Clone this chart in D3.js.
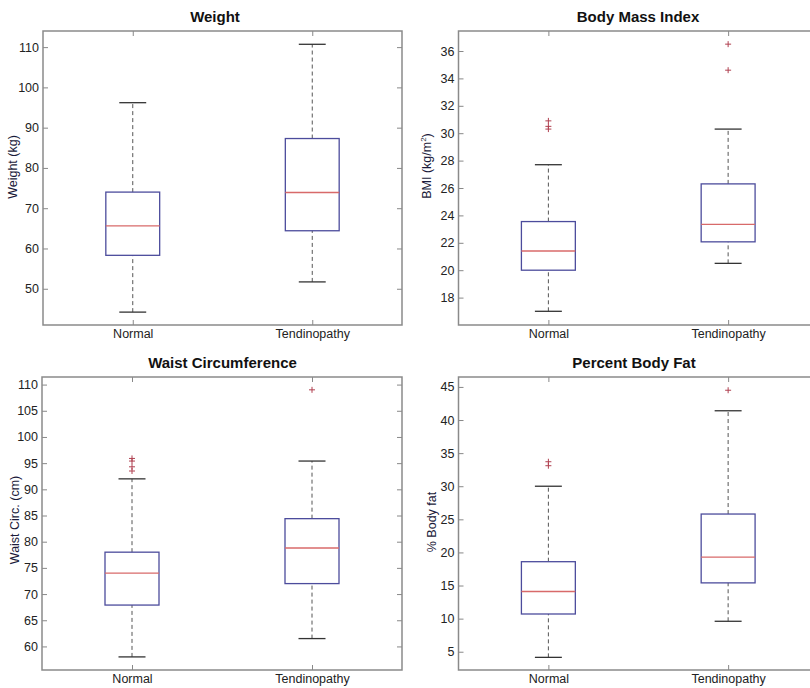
<!DOCTYPE html>
<html><head><meta charset="utf-8">
<script src="https://cdn.jsdelivr.net/npm/d3@7"></script>
<style>body{margin:0;background:#fff;} text{font-family:"Liberation Sans",Arial,sans-serif;}</style>
</head><body><svg id="c" width="810" height="688"></svg>
<script>
const categories = ["Normal", "Tendinopathy"];
const titles = ["Weight", "Body Mass Index", "Waist Circumference", "Percent Body Fat"];
const yLabels = ["Weight (kg)", "BMI (kg/m2)", "Waist Circ. (cm)", "% Body fat"];
// stats per group: [lower whisker, Q1, median, Q3, upper whisker]
const weightStats = [[44.2, 58.3, 65.6, 74.0, 96.2], [51.7, 64.4, 73.9, 87.3, 110.7]];
const weightOutliers = [[], []];
const bmiStats = [[17.0, 20.0, 21.4, 23.55, 27.7], [20.5, 22.07, 23.35, 26.3, 30.3]];
const bmiOutliers = [[30.3, 30.5, 30.9], [34.6, 36.5]];
const waistStats = [[58.0, 67.9, 74.0, 78.0, 92.0], [61.5, 72.0, 78.8, 84.4, 95.4]];
const waistOutliers = [[93.5, 94.3, 95.4, 95.9], [109.0]];
const fatStats = [[4.15, 10.7, 14.1, 18.6, 30.0], [9.6, 15.4, 19.3, 25.8, 41.4]];
const fatOutliers = [[33.1, 33.7], [44.5]];
const weightTicks = [50, 60, 70, 80, 90, 100, 110];
const bmiTicks = [18, 20, 22, 24, 26, 28, 30, 32, 34, 36];
const waistTicks = [60, 65, 70, 75, 80, 85, 90, 95, 100, 105, 110];
const fatTicks = [5, 10, 15, 20, 25, 30, 35, 40, 45];
const domains = [[41, 114], [16, 37.46], [55.5, 111.45], [2.24, 46.5]];

const panels = [
  {stats: weightStats, outl: weightOutliers, ticks: weightTicks, dom: domains[0], x0: 43, x1: 402, y0: 31, y1: 325, lx: 12.5, ly: 167, tx: 215},
  {stats: bmiStats, outl: bmiOutliers, ticks: bmiTicks, dom: domains[1], x0: 458.5, x1: 818, y0: 31, y1: 325, lx: 426.5, ly: 166, tx: 638},
  {stats: waistStats, outl: waistOutliers, ticks: waistTicks, dom: domains[2], x0: 42, x1: 402, y0: 377, y1: 670, lx: 14, ly: 520, tx: 222.5},
  {stats: fatStats, outl: fatOutliers, ticks: fatTicks, dom: domains[3], x0: 458.5, x1: 818, y0: 377, y1: 670, lx: 431, ly: 522, tx: 634}
];

const svg = d3.select("#c");
svg.append("rect").attr("width", 810).attr("height", 688).attr("fill", "#fff");

panels.forEach((p, i) => {
  const g = svg.append("g");
  const x = d3.scaleLinear().domain([0.5, 2.5]).range([p.x0, p.x1]);
  const y = d3.scaleLinear().domain(p.dom).range([p.y1, p.y0]);
  const unit = x(2) - x(1);
  const bw = 0.3 * unit, cw = 0.15 * unit;

  // axes with inside ticks
  const tl = 5;
  const yl = d3.axisLeft(y).tickValues(p.ticks).tickSize(-tl).tickPadding(4).tickFormat(d3.format("d"));
  const yr = d3.axisRight(y).tickValues(p.ticks).tickSize(-tl).tickFormat("");
  const xb = d3.axisBottom(x).tickValues([1, 2]).tickSize(-tl).tickPadding(4).tickFormat(d => categories[d - 1]);
  const xt = d3.axisTop(x).tickValues([1, 2]).tickSize(-tl).tickFormat("");
  [[yl, `translate(${p.x0},0)`], [yr, `translate(${p.x1},0)`], [xb, `translate(0,${p.y1})`], [xt, `translate(0,${p.y0})`]].forEach(([ax, tr]) => {
    const a = g.append("g").attr("transform", tr).call(ax);
    a.select(".domain").remove();
    a.selectAll(".tick line").attr("stroke", "#888").attr("stroke-width", 1);
    a.selectAll(".tick text").attr("fill", "#222").style("font-size", "12.5px").style("font-family", "'Liberation Sans',Arial,sans-serif");
  });
  g.append("rect").attr("x", p.x0).attr("y", p.y0).attr("width", p.x1 - p.x0).attr("height", p.y1 - p.y0)
    .attr("fill", "none").attr("stroke", "#8a8a8a").attr("stroke-width", 1.5);

  // title
  g.append("text").attr("x", p.tx).attr("y", p.y0 - 9).attr("text-anchor", "middle")
    .attr("font-weight", "bold").style("font-size", "15px").attr("fill", "#111").text(titles[i]);
  // y label
  const t = g.append("text").attr("transform", `translate(${p.lx + 4.5},${p.ly}) rotate(-90)`).attr("text-anchor", "middle")
    .style("font-size", "12.5px").attr("fill", "#1a1a3a");
  if (i === 1) {
    t.append("tspan").text("BMI (kg/m");
    t.append("tspan").attr("dy", -5).style("font-size", "8px").text("2");
    t.append("tspan").attr("dy", 5).text(")");
  } else t.text(yLabels[i]);

  p.stats.forEach((s, k) => {
    const cx = x(k + 1);
    const [lo, q1, md, q3, hi] = s;
    g.append("line").attr("x1", cx).attr("x2", cx).attr("y1", y(q3)).attr("y2", y(hi))
      .attr("stroke", "#555").attr("stroke-dasharray", "4,3").attr("stroke-width", 1);
    g.append("line").attr("x1", cx).attr("x2", cx).attr("y1", y(lo)).attr("y2", y(q1))
      .attr("stroke", "#555").attr("stroke-dasharray", "4,3").attr("stroke-width", 1);
    [lo, hi].forEach(v => g.append("line").attr("x1", cx - cw / 2).attr("x2", cx + cw / 2).attr("y1", y(v)).attr("y2", y(v))
      .attr("stroke", "#333").attr("stroke-width", 1.3));
    g.append("rect").attr("x", cx - bw / 2).attr("y", y(q3)).attr("width", bw).attr("height", y(q1) - y(q3))
      .attr("fill", "none").attr("stroke", "#4c4c9c").attr("stroke-width", 1.3);
    g.append("line").attr("x1", cx - bw / 2).attr("x2", cx + bw / 2).attr("y1", y(md)).attr("y2", y(md))
      .attr("stroke", "#d86a6a").attr("stroke-width", 1.3);
    p.outl[k].forEach(v => {
      const yy = y(v);
      g.append("path").attr("d", `M${cx - 3},${yy}H${cx + 3}M${cx},${yy - 3}V${yy + 3}`)
        .attr("stroke", "#b04050").attr("stroke-width", 1);
    });
  });
});
</script></body></html>
